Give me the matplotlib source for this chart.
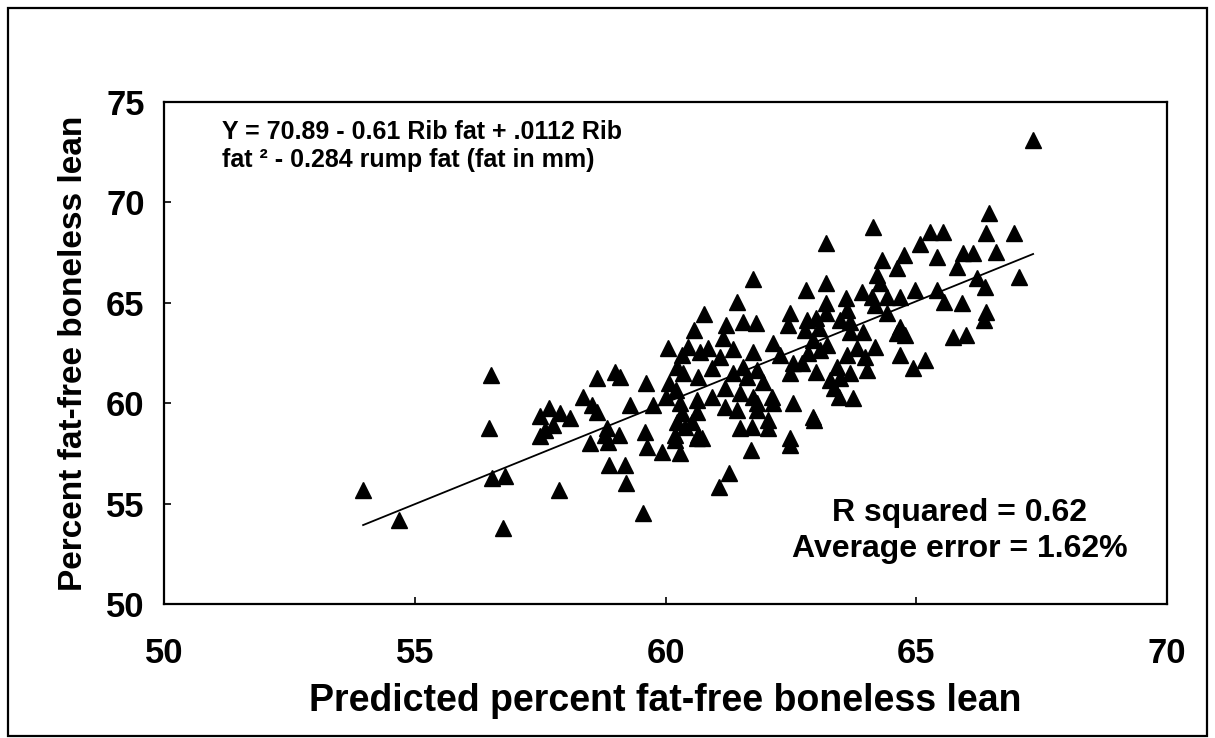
import numpy as np
import matplotlib
matplotlib.use('Agg')
import matplotlib.pyplot as plt
from matplotlib.patches import Rectangle

plt.rcParams['font.family'] = ['Liberation Sans', 'DejaVu Sans']
plt.rcParams['font.weight'] = 'bold'

pred_x = [53.97, 54.69, 56.52, 56.48, 56.54, 56.80, 56.76, 57.88, 57.50, 57.68,
          57.90, 58.10, 57.60, 57.76, 57.50,
          61.74, 61.42, 60.77, 61.55, 61.80, 61.21, 60.57, 61.15, 60.04, 60.45,
          60.69, 60.85, 61.35, 61.74, 60.32, 61.09, 58.63, 58.99, 59.09, 59.61,
          60.22, 60.35, 60.92, 61.35, 61.62, 61.82, 60.65, 60.06, 60.21, 58.35,
          58.53, 58.64, 59.29, 59.76, 60.01, 60.29, 60.62, 60.92, 61.19, 61.49,
          61.75, 61.19, 58.83, 60.32, 60.22, 60.52, 60.62, 61.42, 61.82, 61.49,
          61.72, 59.59, 59.08, 60.19, 60.65,
          58.49, 58.79, 58.86, 59.64, 59.92, 60.18, 60.28, 60.39, 60.62, 60.72,
          61.70, 58.88, 59.19, 59.21, 59.55, 61.27, 61.07,
          63.20, 65.07, 64.76, 64.31, 65.41, 64.61, 64.21, 63.20, 62.80, 63.91,
          64.28, 63.60, 64.11, 64.41, 64.68, 64.98, 65.41, 63.21, 62.48, 62.45,
          62.82, 63.01, 63.20, 63.47, 63.67, 63.61, 64.18, 64.41, 62.78, 63.07,
          63.67, 63.94, 64.68, 64.61, 64.78, 62.15, 62.95, 63.23, 63.81, 64.18,
          62.28, 62.85, 63.08, 63.61, 63.98, 64.68, 65.17, 64.94, 61.55, 62.55,
          62.72, 62.48, 63.01, 63.41, 64.01, 61.95, 63.28, 63.48, 63.68, 63.35,
          62.12, 62.15, 61.82, 63.45, 63.74, 62.55, 62.95, 62.05, 62.05, 62.48,
          62.49, 62.96,
          67.33, 66.45, 65.27, 65.54, 66.40, 66.95, 65.94, 66.14, 66.59, 65.82,
          66.21, 67.05, 66.37, 65.55, 65.92, 66.40, 66.35, 65.74, 65.99, 64.14]
actual_y = [55.68, 54.18, 61.40, 58.76, 56.27, 56.37, 53.78, 55.68, 59.36, 59.76,
            59.51, 59.26, 58.67, 58.91, 58.37,
            66.17, 65.05, 64.44, 64.06, 63.99, 63.89, 63.65, 63.23, 62.73, 62.81,
            62.56, 62.73, 62.68, 62.56, 62.40, 62.32, 61.27, 61.57, 61.32, 60.99,
            61.82, 61.49, 61.74, 61.49, 61.32, 61.65, 61.32, 60.99, 60.66, 60.32,
            59.91, 59.58, 59.91, 59.91, 60.32, 59.99, 60.16, 60.32, 60.74, 60.49,
            60.32, 59.83, 58.75, 59.50, 59.08, 59.08, 59.58, 59.66, 59.66, 58.75,
            58.83, 58.58, 58.42, 58.42, 58.42,
            58.03, 58.42, 58.08, 57.83, 57.58, 58.17, 57.50, 58.83, 58.25, 58.25,
            57.67, 56.92, 56.92, 56.01, 54.52, 56.54, 55.84,
            67.96, 67.93, 67.38, 67.13, 67.30, 66.72, 66.38, 66.00, 65.64, 65.55,
            65.97, 65.22, 65.30, 65.30, 65.27, 65.64, 65.64, 64.98, 64.48, 63.89,
            64.14, 64.23, 64.48, 64.14, 64.06, 64.64, 64.89, 64.48, 63.65, 63.73,
            63.56, 63.56, 63.81, 63.48, 63.40, 62.98, 63.15, 62.90, 62.73, 62.81,
            62.40, 62.49, 62.65, 62.40, 62.32, 62.40, 62.15, 61.74, 61.82, 61.99,
            61.99, 61.49, 61.57, 61.82, 61.65, 61.07, 61.16, 61.24, 61.49, 60.74,
            60.32, 59.99, 59.99, 60.32, 60.24, 59.99, 59.33, 59.16, 58.75, 58.25,
            57.92, 59.16,
            73.11, 69.46, 68.54, 68.54, 68.49, 68.49, 67.47, 67.47, 67.55, 66.80,
            66.22, 66.30, 65.80, 65.05, 64.98, 64.56, 64.14, 63.31, 63.40, 68.79]

# regression line end points
fit_x = [53.97, 67.33]
fit_y = [53.93, 67.43]

eq_text = 'Y = 70.89 - 0.61 Rib fat + .0112 Rib\nfat \u00b2 - 0.284 rump fat (fat in mm)'
stats_text = 'R squared = 0.62\nAverage error = 1.62%'

fig = plt.figure(figsize=(12.15, 7.38), dpi=100)
ax = fig.add_axes([0.135, 0.1816, 0.8255, 0.6802])

ax.plot(fit_x, fit_y, color='black', lw=1.3, zorder=2)
ax.plot(pred_x, actual_y, linestyle='none', marker='^', ms=11,
        color='black', zorder=3)

ax.set_xlim(50, 70)
ax.set_ylim(50, 75)
ax.set_xticks([50, 55, 60, 65, 70])
ax.set_yticks([50, 55, 60, 65, 70, 75])
ax.tick_params(direction='in', length=5, width=1.2, labelsize=25)
ax.tick_params(axis='x', pad=24)
ax.tick_params(axis='y', pad=14)
for s in ax.spines.values():
    s.set_linewidth(1.6)

ax.set_xlabel('Predicted percent fat-free boneless lean', fontsize=27,
              fontweight='bold', labelpad=9)
ax.set_ylabel('Percent fat-free boneless lean', fontsize=24,
              fontweight='bold', labelpad=12)

ax.text(0.058, 0.964, eq_text, transform=ax.transAxes, fontsize=18,
        fontweight='bold', va='top', ha='left', linespacing=1.2)
ax.text(0.793, 0.145, stats_text, transform=ax.transAxes, fontsize=23,
        fontweight='bold', va='center', ha='center', linespacing=1.25)

# outer border around the whole figure
fig.patches.append(Rectangle((0.0066, 0.003), 0.987, 0.986, transform=fig.transFigure,
                             fill=False, edgecolor='black', lw=1.6))

fig.savefig('out.png', dpi=100)
